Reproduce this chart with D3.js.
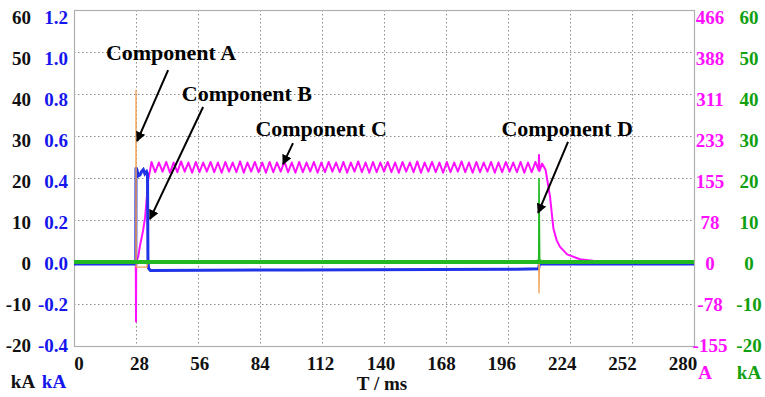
<!DOCTYPE html>
<html><head><meta charset="utf-8">
<script src="https://cdn.jsdelivr.net/npm/d3@7"></script>
<style>
html,body{margin:0;padding:0;background:#fff;}
</style></head>
<body><svg id="c" width="765" height="397"></svg>
<script>
// ---------- tick labels ----------
const timeTicks = [0,28,56,84,112,140,168,196,224,252,280];
const kaTicks = [-20,-10,0,10,20,30,40,50,60];            // black, left
const blueTicks = ["-0.4","-0.2","0.0","0.2","0.4","0.6","0.8","1.0","1.2"];
const magentaTicks = [-155,-78,0,78,155,233,311,388,466];
const greenTicks = [-20,-10,0,10,20,30,40,50,60];

// ---------- series ----------
// orange (kA, left black axis)
const orangeT = [0,27.95,28.0,28.1,33.0,33.2,209.9,210.0,210.2,280];
const orangeV = [0,0,41,-1.2,-1.2,0,0,-7.5,0,0];
// blue (kA, left blue axis)
const blueT = [0,27.9,28.0,28.4,29.0,29.8,30.5,31.3,32.0,32.8,33.2,33.4,33.7,34.5,100,200,209.8,210.2,280];
const blueV = [-0.01,-0.01,0.45,0.44,0.41,0.415,0.43,0.44,0.42,0.43,0.42,0.0,-0.03,-0.04,-0.038,-0.034,-0.032,-0.01,-0.01];
// magenta (A, right magenta axis): start, 300 Hz ripple samples, tail
const magentaStartT = [0,27.9,28.0,28.1,29.0,29.8,31.2,32.1,33.0,33.5,34.3];
const magentaStartA = [0,0,-110,0,10,30,58,82,124,152,168];
const rippleStart = 35.0, rippleStep = 1.667;   // ms per half-cycle sample
const magentaRipple = [
 185,166,184,167,185,165,184,166,186,167,
 184,165,185,166,184,167,185,166,184,165,
 185,167,184,166,186,165,184,167,185,166,
 184,165,185,166,184,167,186,166,184,165,
 185,166,184,167,185,165,184,166,185,167,
 184,166,185,165,184,167,186,166,184,165,
 185,166,184,167,185,166,184,165,185,167,
 184,166,186,165,184,167,185,166,184,165,
 185,166,184,167,186,166,184,165,185,166,
 184,167,185,165,184,166,185,167,184,166,
 185,165,184,166,185];
const magentaTailT = [209.8,210.0,210.2,211.4,213.0,215.0,216.5,218.0,219.5,222.7,228.5,237,250,280];
const magentaTailA = [170,198,168,182,170,120,62,40,28,14,5,1,0,0];
// green (kA, right green axis)
const greenT = [0,209.9,210.0,210.3,280];
const greenV = [0,0,20,0,0];

// ---------- annotations (time ms, value on black kA axis) ----------
const annoText = ["Component A","Component B","Component C","Component D"];
const annoTextT = [43.8,78.1,111.6,222.7];
const annoTextV = [50,40.2,31.9,31.9];
const annoFromT = [42.5,58.3,98.9,223.1];
const annoFromV = [45.7,36.9,28.3,28.6];
const annoToT = [28.5,34.3,94.4,209.6];
const annoToV = [28.8,10.2,23.3,11.7];

// ---------- layout ----------
const FONT = "'Liberation Serif', 'Times New Roman', Times, serif";
const L=74, R=694, T=10, B=346;
const svg = d3.select("#c");
const x = d3.scaleLinear().domain([0,280]).range([L,R]);
const xLab = d3.scaleLinear().domain([0,280]).range([79,683]);
const yK = d3.scaleLinear().domain([-20,60]).range([B,T]);
const yLab = d3.scaleLinear().domain([-20,60]).range([345,17]);
const yBlue = d3.scaleLinear().domain([-0.4,1.2]).range([B,T]);
const yMag = d3.scaleLinear().domain([-155.33,466]).range([B,T]);
const yGreen = d3.scaleLinear().domain([-20,60]).range([B,T]);

// grid
const g = svg.append("g");
g.selectAll("line.h").data(kaTicks.slice(1,-1)).join("line")
 .attr("x1",L).attr("x2",R).attr("y1",d=>yK(d)+0.5).attr("y2",d=>yK(d)+0.5)
 .attr("stroke","#8a8a8a").attr("stroke-width",1).attr("stroke-dasharray","1.5,2.5");
g.selectAll("line.v").data(timeTicks.slice(1,-1)).join("line")
 .attr("y1",T).attr("y2",B).attr("x1",d=>Math.round(x(d))+0.5).attr("x2",d=>Math.round(x(d))+0.5)
 .attr("stroke","#8a8a8a").attr("stroke-width",1).attr("stroke-dasharray","1.5,2.5");
svg.append("rect").attr("x",L+0.5).attr("y",T+0.5).attr("width",R-L).attr("height",B-T)
 .attr("fill","none").attr("stroke","#b0b0b0").attr("stroke-width",1.2);

// series
const line = (ys)=>d3.line().x(d=>x(d[0])).y(d=>ys(d[1]));
const zip=(a,b)=>a.map((v,i)=>[v,b[i]]);
const magData = zip(magentaStartT,magentaStartA)
  .concat(magentaRipple.map((v,i)=>[rippleStart+i*rippleStep,v]))
  .concat(zip(magentaTailT,magentaTailA));
svg.append("defs").append("clipPath").attr("id","band")
 .append("rect").attr("x",L).attr("width",R-L).attr("y",yGreen(0)-2.5).attr("height",5);
const plot = svg.append("g");
plot.append("path").datum(magData).attr("d",line(yMag)).attr("fill","none")
 .attr("stroke","#ff10ff").attr("stroke-width",2).attr("stroke-linejoin","round");
plot.append("path").datum(zip(blueT,blueV)).attr("d",line(yBlue)).attr("fill","none")
 .attr("stroke","#1f33e8").attr("stroke-width",3);
plot.append("path").datum(zip(orangeT,orangeV)).attr("d",line(yK)).attr("fill","none")
 .attr("stroke","#f0a050").attr("stroke-width",1.3);
// green: thin trace plus its noisy baseline band
plot.append("path").datum(zip(greenT,greenV)).attr("d",line(yGreen)).attr("fill","none")
 .attr("stroke","#22b822").attr("stroke-width",1.6);
plot.append("path").datum(zip(greenT,greenV)).attr("d",line(yGreen)).attr("fill","none")
 .attr("clip-path","url(#band)").attr("stroke","#22b822").attr("stroke-width",4);

// axes labels
const fs = 19;
const lab = (sel)=>sel.attr("font-family",FONT).attr("font-weight","bold").attr("font-size",fs)
  .attr("dominant-baseline","central");
lab(svg.append("g").selectAll("text").data(kaTicks).join("text")
 .attr("x",31).attr("y",d=>yLab(d)).attr("text-anchor","end").attr("fill","#111").text(d=>d));
lab(svg.append("g").selectAll("text").data(blueTicks).join("text")
 .attr("x",68).attr("y",d=>yLab(+d*50)).attr("text-anchor","end").attr("fill","#1515ee").text(d=>d));
lab(svg.append("g").selectAll("text").data(magentaTicks).join("text")
 .attr("x",710).attr("y",(d,i)=>yLab(greenTicks[i])).attr("text-anchor","middle").attr("fill","#ff10ff").text(d=>d));
lab(svg.append("g").selectAll("text").data(greenTicks).join("text")
 .attr("x",749).attr("y",d=>yLab(d)).attr("text-anchor","middle").attr("fill","#10a010").text(d=>d));
lab(svg.append("g").selectAll("text").data(timeTicks).join("text")
 .attr("x",d=>xLab(d)).attr("y",363).attr("text-anchor","middle").attr("fill","#111").text(d=>d));

// units
const unit=(t,xx,yy,c)=>lab(svg.append("text").attr("x",xx).attr("y",yy).attr("text-anchor","middle")
 .attr("fill",c).text(t));
unit("kA",23,381,"#111");
unit("kA",54,381,"#1515ee");
unit("A",705,372,"#ff10ff");
unit("kA",749,372,"#10a010");
unit("T / ms",382,383,"#111");

// annotations
svg.select("defs").append("marker").attr("id","ah").attr("viewBox","0 0 10 10")
 .attr("refX",9).attr("refY",5).attr("markerWidth",5).attr("markerHeight",5).attr("orient","auto")
 .append("path").attr("d","M0,0 L10,5 L0,10 z").attr("fill","#000");
const an = svg.append("g");
annoText.forEach((t,i)=>{
  an.append("line").attr("x1",x(annoFromT[i])).attr("y1",yK(annoFromV[i]))
   .attr("x2",x(annoToT[i])).attr("y2",yK(annoToV[i]))
   .attr("stroke","#000").attr("stroke-width",2).attr("marker-end","url(#ah)");
  an.append("text").attr("x",x(annoTextT[i])).attr("y",yK(annoTextV[i]))
   .attr("text-anchor","middle").attr("dominant-baseline","central")
   .attr("font-family",FONT).attr("font-weight","bold")
   .attr("font-size",22).attr("fill","#000").text(t);
});
</script></body></html>
